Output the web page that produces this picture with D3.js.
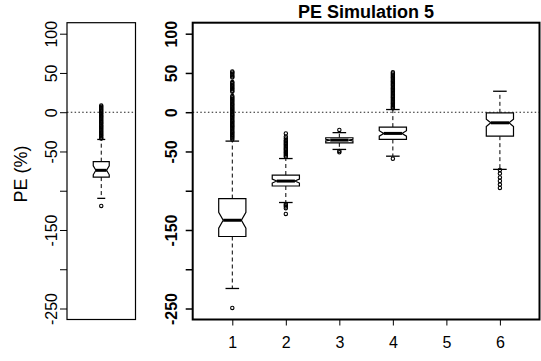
<!DOCTYPE html>
<html>
<head>
<meta charset="utf-8">
<script src="https://cdn.jsdelivr.net/npm/d3@7"></script>
<style>
  html, body { margin: 0; padding: 0; background: #fff; }
  svg { display: block; font-family: "Liberation Sans", Arial, Helvetica, sans-serif; }
</style>
</head>
<body>
<svg id="chart" width="541" height="361"></svg>
<script>
// ---- data -------------------------------------------------------------
const groups = ["1", "2", "3", "4", "5", "6"];
const yTicks = [100, 50, 0, -50, -100, -150, -200, -250];
const yTickLabels = ["100", "50", "0", "-50", "", "-150", "", "-250"];
const yLimits = [-250, 100];

// Simulation 5 boxes (group 5 has no results)
const whiskerLow  = [-224.5, -115, -47.4, -56,  null, -72.8];
const q1          = [-158.3, -94,  -39,   -34.7, null, -30.5];
const medians     = [-137.6, -87.7, -35.5, -27,  null, -13.5];
const q3          = [-110,   -80,  -32.5, -19,   null, -0.8];
const whiskerHigh = [-36.8,  -59,  -26,   3.4,   null, 26.7];
const notchHalf   = [10,     2.5,  1,     3.5,   null, 4.7];
const outliers = [
  [52, 50.6, 48.9, 47.2, 45.6, 44.1, 38.4, 37.1, 35.3, 33.8, 32.2, 30.4, 29.1, 27.3, 26.1,
   20.6, 19.2, 17.4, 15.9, 14.2, 12.6, 10.8, 9.4, 7.9, 6.3, 4.8, 3.1, 1.4, 0.2, -1.6, -3.2,
   -4.4, -6.1, -7.8, -9.6, -11.1, -12.4, -14.2, -15.7, -17.1, -18.6, -20.2, -21.8, -23.6,
   -25.1, -26.4, -28.2, -29.7, -31.1, -32.9, -34.6, -249.3],
  [-27, -31.2, -33.4, -35.6, -37.1, -38.7, -40.2, -41.4, -43.1, -44.6, -46.2, -47.4, -49.1,
   -50.6, -52.1, -53.4, -55.2, -56.8, -117, -118.6, -120.1, -122.2, -129.6],
  [-22.5, -49.4, -51.1],
  [50.8, 49.3, 47.7, 46.1, 44.6, 43.2, 41.4, 39.9, 38.5, 36.8, 35.2, 33.9, 32.1, 30.6, 29.2,
   27.5, 26.1, 24.4, 22.9, 21.3, 19.8, 18.4, 16.7, 15.2, 13.6, 12.1, 10.7, 9.1, 7.6, 6.2, 4.9,
   -59.3],
  [],
  [-73.6, -78.2, -83.1, -87.6, -92.1, -96.4]
];

// Pooled box (left panel)
const pooledWhiskerLow = -109.7;
const pooledQ1 = -82.6;
const pooledMedian = -74;
const pooledQ3 = -63;
const pooledWhiskerHigh = -34.7;
const pooledNotchHalf = 5.7;
const pooledOutliers = [8.4, 6.9, 5.3, 3.8, 2.2, 0.7, -0.9, -2.4, -4.1, -5.5, -7.2, -8.6, -10.3,
  -11.7, -13.4, -14.8, -16.5, -17.9, -19.6, -21.1, -22.7, -24.2, -25.8, -27.3, -28.9, -30.4,
  -32.1, -33.4, -119.4];

const titleText = "PE Simulation 5";
const yLabelText = "PE (%)";

// ---- layout ----------------------------------------------------------
const svg = d3.select("#chart");
const plotTop = 22.7, plotBottom = 319.5;
const pad = (yLimits[1] - yLimits[0]) * 0.04;
const y = d3.scaleLinear().domain([yLimits[0] - pad, yLimits[1] + pad]).range([plotBottom, plotTop]);

const leftPanel  = { x0: 67,    x1: 135.5 };
const rightPanel = { x0: 192.7, x1: 539.5 };

const xLeft = d3.scaleLinear().domain([0.46, 1.54]).range([leftPanel.x0, leftPanel.x1]);
const xRight = d3.scaleLinear().domain([0.26, 6.74]).range([rightPanel.x0, rightPanel.x1]);

// ---- drawing helpers -------------------------------------------------
function drawBox(g, cx, hw, s) {
  const inset = hw * 0.33;
  const capHw = hw * 0.5;
  const yq1 = y(s.q1), yq3 = y(s.q3), ym = y(s.med);
  const yNt = y(s.med + s.notch), yNb = y(s.med - s.notch);

  // whiskers (dashed) and caps
  [[s.q3, s.hi], [s.q1, s.lo]].forEach(([a, b]) => {
    g.append("line")
      .attr("x1", cx).attr("x2", cx).attr("y1", y(a)).attr("y2", y(b))
      .attr("stroke", "#000").attr("stroke-width", 1).attr("stroke-dasharray", "4,3");
    g.append("line")
      .attr("x1", cx - capHw).attr("x2", cx + capHw).attr("y1", y(b)).attr("y2", y(b))
      .attr("stroke", "#000").attr("stroke-width", 1.3);
  });

  const x0 = cx - hw, x1 = cx + hw;
  const pts = [
    [x0, yq3], [x1, yq3], [x1, yNt], [x1 - inset, ym], [x1, yNb], [x1, yq1],
    [x0, yq1], [x0, yNb], [x0 + inset, ym], [x0, yNt]
  ];
  g.append("path")
    .attr("d", d3.line()(pts) + "Z")
    .attr("fill", "#fff").attr("stroke", "#000").attr("stroke-width", 1.2);

  g.append("line")
    .attr("x1", x0 + inset).attr("x2", x1 - inset).attr("y1", ym).attr("y2", ym)
    .attr("stroke", "#000").attr("stroke-width", 3);

  g.selectAll(null).data(s.out).enter().append("circle")
    .attr("cx", cx).attr("cy", d => y(d)).attr("r", 1.7)
    .attr("fill", "none").attr("stroke", "#000").attr("stroke-width", 1.1);
}

function drawZeroLine(p) {
  svg.append("line")
    .attr("x1", p.x0).attr("x2", p.x1).attr("y1", y(0)).attr("y2", y(0))
    .attr("stroke", "#222").attr("stroke-width", 1.1).attr("stroke-dasharray", "1.5,2.3");
}

function drawYAxis(xPos, labelX, weight, tickWidth) {
  const g = svg.append("g").attr("transform", `translate(${xPos},0)`);
  const ax = d3.axisLeft(y).tickValues(yTicks).tickSize(7).tickSizeOuter(0)
    .tickFormat((d, i) => yTickLabels[i]);
  g.call(ax);
  g.select(".domain").remove();
  g.selectAll(".tick line").attr("stroke", "#000").attr("stroke-width", tickWidth);
  g.selectAll(".tick text")
    .attr("x", null).attr("dy", null)
    .attr("transform", `translate(${labelX - xPos},0) rotate(-90)`)
    .attr("text-anchor", "middle")
    .attr("font-size", 16).attr("font-weight", weight)
    .attr("fill", "#000");
}

// ---- left panel: pooled ----------------------------------------------
drawZeroLine(leftPanel);
drawBox(svg.append("g"), xLeft(1), 8, {
  lo: pooledWhiskerLow, q1: pooledQ1, med: pooledMedian, q3: pooledQ3,
  hi: pooledWhiskerHigh, notch: pooledNotchHalf, out: pooledOutliers
});
svg.append("rect")
  .attr("x", leftPanel.x0).attr("y", plotTop)
  .attr("width", leftPanel.x1 - leftPanel.x0).attr("height", plotBottom - plotTop)
  .attr("fill", "none").attr("stroke", "#000").attr("stroke-width", 1.2);
drawYAxis(leftPanel.x0, 57, "normal", 1);

svg.append("text")
  .attr("transform", `translate(27,${(plotTop + plotBottom) / 2 + 3}) rotate(-90)`)
  .attr("text-anchor", "middle")
  .attr("font-size", 18)
  .text(yLabelText);

// ---- right panel: by group -------------------------------------------
drawZeroLine(rightPanel);
groups.forEach((gName, i) => {
  if (medians[i] === null) return;
  drawBox(svg.append("g"), xRight(+gName), 13.6, {
    lo: whiskerLow[i], q1: q1[i], med: medians[i], q3: q3[i],
    hi: whiskerHigh[i], notch: notchHalf[i], out: outliers[i]
  });
});
svg.append("rect")
  .attr("x", rightPanel.x0).attr("y", plotTop)
  .attr("width", rightPanel.x1 - rightPanel.x0).attr("height", plotBottom - plotTop)
  .attr("fill", "none").attr("stroke", "#000").attr("stroke-width", 2);
drawYAxis(rightPanel.x0, 176.5, "bold", 1.5);

const xg = svg.append("g").attr("transform", `translate(0,${plotBottom})`);
xg.call(d3.axisBottom(xRight).tickValues(groups.map(Number)).tickSize(6).tickSizeOuter(0)
  .tickFormat((d, i) => groups[i]));
xg.select(".domain").remove();
xg.selectAll(".tick line").attr("stroke", "#000").attr("stroke-width", 1);
xg.selectAll(".tick text")
  .attr("y", null).attr("dy", null)
  .attr("transform", "translate(0,28)")
  .attr("font-size", 16).attr("fill", "#000");

svg.append("text")
  .attr("x", (rightPanel.x0 + rightPanel.x1) / 2)
  .attr("y", 18)
  .attr("text-anchor", "middle")
  .attr("font-size", 18).attr("font-weight", "bold")
  .text(titleText);
</script>
</body>
</html>
